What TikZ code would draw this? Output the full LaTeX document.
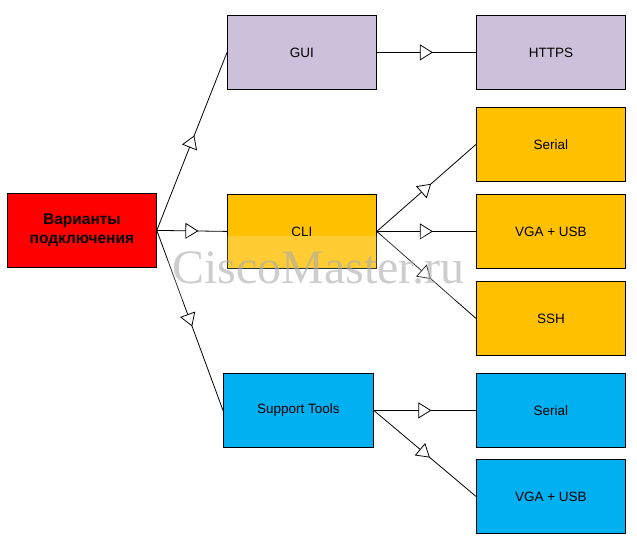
\documentclass[tikz,border=0pt]{standalone}
\usepackage{fontspec}
\setmainfont{Liberation Sans}
\newfontfamily\wmfont{Liberation Serif}
\usetikzlibrary{arrows.meta,decorations.markings}
\definecolor{lav}{HTML}{CCC0DA}
\definecolor{org}{HTML}{FFC000}
\definecolor{blu}{HTML}{00B0F0}
\begin{document}
\begin{tikzpicture}[x=1pt,y=-1pt,
 box/.style={draw=black, line width=0.8pt, minimum width=149pt, minimum height=74pt, inner sep=0pt, font=\fontsize{13.5}{16}\selectfont, anchor=north west, align=center},
 conn/.style={line width=0.8pt, postaction={decorate}, decoration={markings, mark=at position 0.5 with {\arrow[xshift=6.5pt]{Triangle[fill=white, length=13pt, width=16pt, line width=0.8pt]}}}}]
\useasboundingbox (0,0) rectangle (637,542);
\fill[white] (0,0) rectangle (637,542);
\node[box, fill=red, font=\fontsize{15.5}{18.5}\selectfont\bfseries] (root) at (7,193) {Варианты\\подключения};
\node[box, fill=lav] (gui) at (227,15) {GUI};
\node[box, fill=lav] (https) at (476,15) {HTTPS};
\node[box, fill=org] (cli) at (227,194) {CLI};
\node[box, fill=org] (ser1) at (476,107) {Serial};
\node[box, fill=org] (vga1) at (476,194) {VGA + USB};
\node[box, fill=org] (ssh) at (476,281) {SSH};
\node[box, fill=blu, minimum width=150pt] (sup) at (223,373) {Support Tools};
\node[box, fill=blu] (ser2) at (476,373) {Serial};
\node[box, fill=blu] (vga2) at (476,459) {VGA + USB};
\draw[conn] (root.east) -- (gui.west);
\draw[conn] (root.east) -- (cli.west);
\draw[conn] (root.east) -- (sup.west);
\draw[conn] (gui.east) -- (https.west);
\draw[conn] (cli.east) -- (ser1.west);
\draw[conn] (cli.east) -- (vga1.west);
\draw[conn] (cli.east) -- (ssh.west);
\draw[conn] (sup.east) -- (ser2.west);
\draw[conn] (sup.east) -- (vga2.west);
\fill[white, opacity=0.2] (168,236) rectangle (470,300);
\node[text=gray!65, opacity=0.6, font=\wmfont\fontsize{48}{50}\selectfont] (wm) at (318,268) {CiscoMaster.ru};
\end{tikzpicture}
\end{document}
